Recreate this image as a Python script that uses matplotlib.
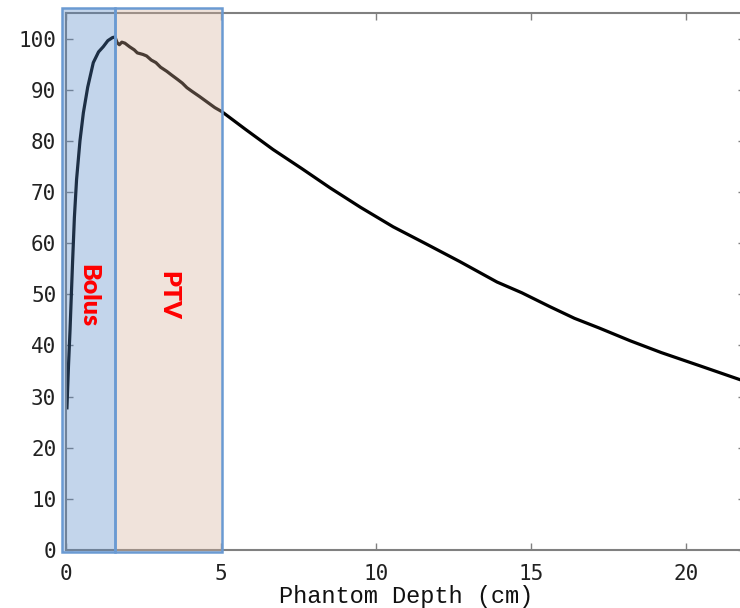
import numpy as np
import matplotlib.pyplot as plt
from matplotlib.patches import Rectangle

# depth dose curve
depth = [0.03, 0.08, 0.13, 0.21, 0.27, 0.34, 0.45, 0.56, 0.70, 0.88, 1.05, 1.20,
         1.35, 1.50, 1.58, 1.65, 1.72, 1.80, 1.90, 2.05, 2.20, 2.30, 2.48, 2.60,
         2.75, 2.90, 3.05, 3.25, 3.40, 3.60, 3.75, 3.90, 4.06, 4.30, 4.55, 4.80,
         5.03, 5.80, 6.68, 7.60, 8.52, 9.50, 10.55, 11.60, 12.70, 13.90, 14.70,
         15.60, 16.40, 17.20, 18.20, 19.20, 20.50, 21.74, 21.95]
dose = [27.8, 36.0, 43.0, 56.0, 65.0, 72.4, 80.0, 85.5, 90.5, 95.3, 97.4, 98.4,
        99.6, 100.2, 100.3, 99.2, 98.8, 99.3, 99.1, 98.4, 97.8, 97.2, 96.9, 96.6,
        95.8, 95.3, 94.4, 93.6, 92.9, 92.0, 91.3, 90.4, 89.7, 88.7, 87.6, 86.5,
        85.7, 82.2, 78.3, 74.6, 70.8, 67.0, 63.2, 59.9, 56.4, 52.4, 50.3,
        47.6, 45.3, 43.4, 40.9, 38.6, 35.9, 33.3, 32.9]

regions = ['Bolus', 'PTV']
region_start = [-0.13, 1.58]
region_end = [1.58, 5.02]
region_colors = ['#5487c6', '#d4af98']

xticks = [0, 5, 10, 15, 20]
yticks = list(range(0, 101, 10))

fig = plt.figure(figsize=(7.4, 6.08), dpi=100)
ax = fig.add_axes([0.0892, 0.0954, 0.918, 0.8832])

ax.plot(depth, dose, color='black', lw=2.3, zorder=2)

for name, x0, x1, c in zip(regions, region_start, region_end, region_colors):
    ax.add_patch(Rectangle((x0, -0.4), x1 - x0, 106.4, facecolor=c, alpha=0.35,
                           edgecolor='none', clip_on=False, zorder=3))
    ax.add_patch(Rectangle((x0, -0.4), x1 - x0, 106.4, facecolor='none',
                           edgecolor='#6a9ad2', lw=1.8, clip_on=False, zorder=4))
    ax.text((x0 + x1) / 2, 49.8, name, color='red', rotation=-90, fontsize=18,
            fontweight='heavy', family='Lato', ha='center', va='center', zorder=5)

ax.set_xlim(0, 21.91)
ax.set_ylim(0, 105)
ax.set_xticks(xticks)
ax.set_yticks(yticks)

for s in ax.spines.values():
    s.set_color('#808080')
    s.set_linewidth(1.5)

ax.tick_params(direction='in', length=5, width=1, colors='#808080',
               top=True, right=True, labelcolor='#222222', labelsize=15, pad=7)
ax.tick_params(axis='x', pad=10)
for lab in ax.get_xticklabels() + ax.get_yticklabels():
    lab.set_family('DejaVu Sans Mono')

ax.set_xlabel('Phantom Depth (cm)', family='Liberation Mono', fontsize=17,
              labelpad=1, color='#111111')

plt.savefig('out.png', dpi=100)
